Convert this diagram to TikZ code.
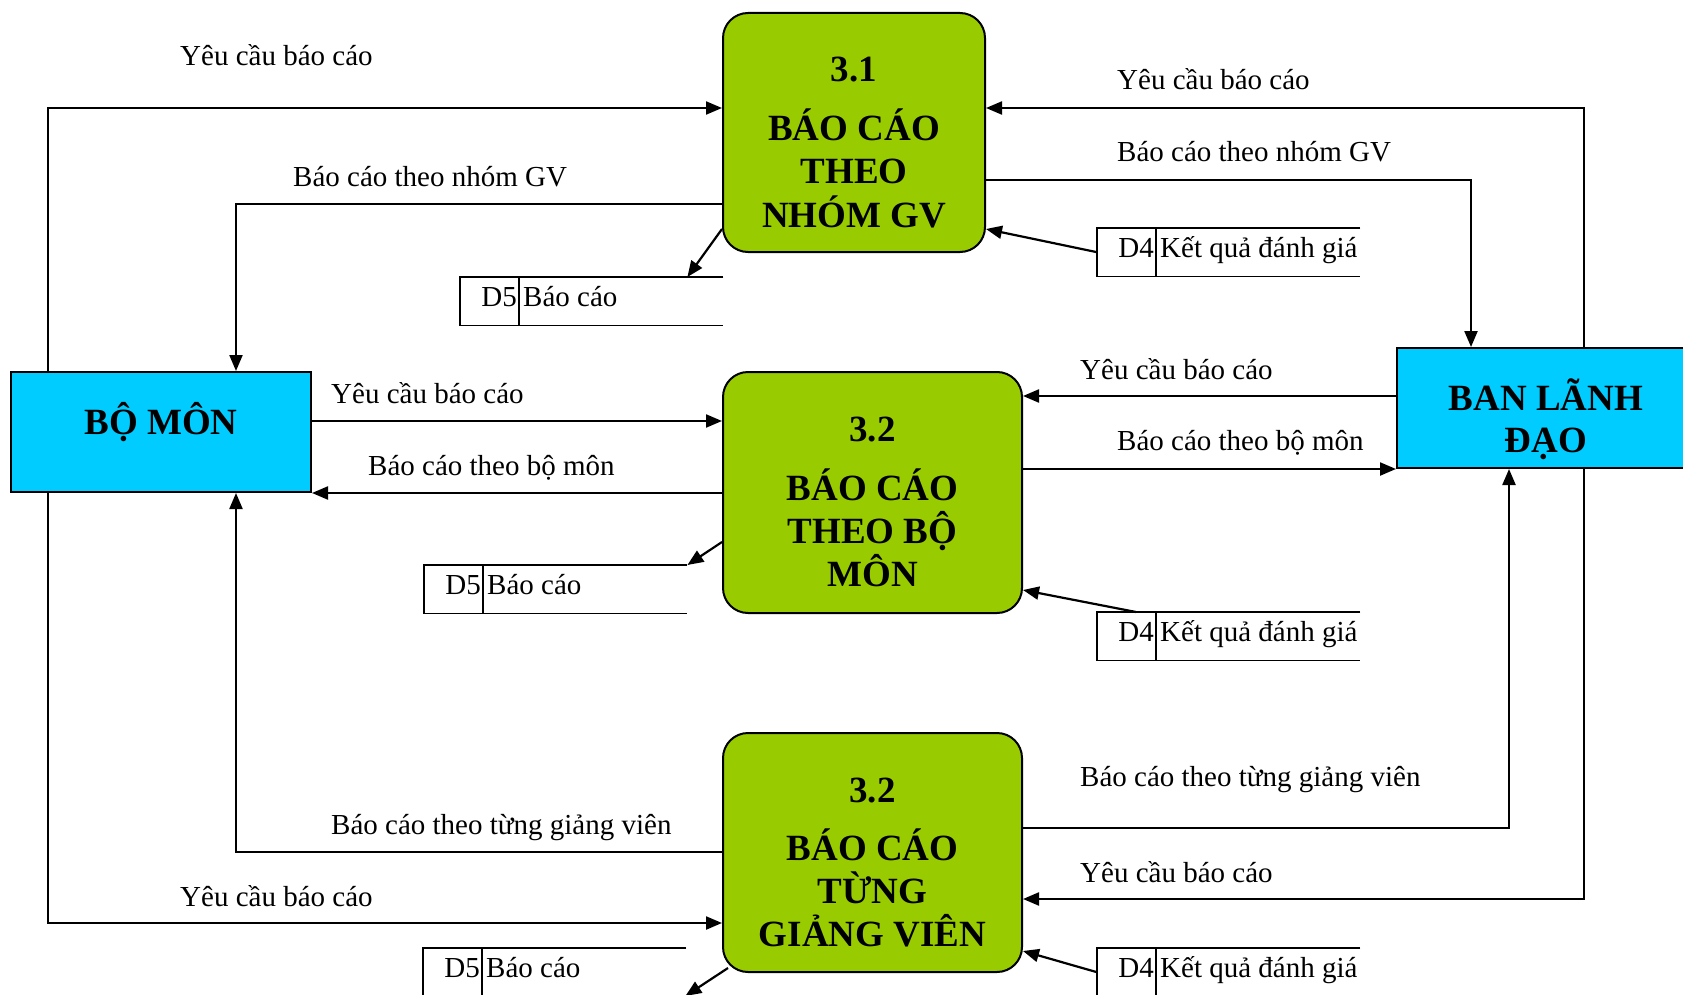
\documentclass[tikz,border=0pt]{standalone}
\usepackage{fontspec}
\setmainfont{Liberation Serif}
\usetikzlibrary{arrows.meta,calc}
\definecolor{procgreen}{HTML}{99CC00}
\definecolor{extcyan}{HTML}{00CCFF}
\tikzset{
  proc/.style={draw=black, line width=2pt, fill=procgreen, rounded corners=25pt, inner sep=0pt},
  ext/.style={draw=black, line width=2pt, fill=extcyan, inner sep=0pt},
  boxtxt/.style={font=\fontsize{37}{43}\selectfont\bfseries, inner sep=0pt, anchor=base},
  lbl/.style={font=\fontsize{29}{35}\selectfont, inner sep=0pt, anchor=base west},
  flow/.style={line width=2.2pt, -{Triangle[length=16pt,width=13pt]}},
  storebox/.style={minimum width=263pt, minimum height=48pt, inner sep=0pt, draw=none},
  storeline/.style={line width=1.6pt},
  storetext/.style={font=\fontsize{29}{35}\selectfont, inner sep=0pt},
}
\newcommand\flowstore[5]{%
  \node[storebox, anchor=north west] (#1) at (#2,#3) {};
  \draw[storeline] (#1.north east) -- (#1.north west) -- (#1.south west) -- (#1.south east);
  \draw[storeline] ($(#1.north west)+(59,0)$) -- ($(#1.south west)+(59,0)$);
  \node[storetext, anchor=base east] (#1-id) at ($(#1.north west)+(57,29)$) {#4};
  \node[storetext, anchor=base west] (#1-lb) at ($(#1.north west)+(63,29)$) {#5};
}
\begin{document}
\begin{tikzpicture}[x=1pt,y=-1pt]
\useasboundingbox (0,0) rectangle (1683,995);
% processes
\node[proc, minimum width=262pt, minimum height=239pt] (p31) at (854,132.5) {};
\node[proc, minimum width=299pt, minimum height=241pt] (p32) at (872.5,492.5) {};
\node[proc, minimum width=299pt, minimum height=239pt] (p32b) at (872.5,852.5) {};
% externals
\node[ext, minimum width=300pt, minimum height=120pt] (bm) at (161,432) {};
\node[ext, minimum width=298pt, minimum height=120pt] (ban) at (1546,408) {};
% texts in boxes
\node[boxtxt] (p31n) at (854,82) {3.1};
\node[boxtxt] (p31a) at (854,141) {BÁO CÁO};
\node[boxtxt] (p31b) at (854,184) {THEO};
\node[boxtxt] (p31c) at (854,227) {NHÓM GV};
\node[boxtxt] (p32n) at (872.5,441) {3.2};
\node[boxtxt] (p32x) at (872.5,500) {BÁO CÁO};
\node[boxtxt] (p32y) at (872.5,543) {THEO BỘ};
\node[boxtxt] (p32z) at (872.5,586) {MÔN};
\node[boxtxt] (p3bn) at (872.5,802) {3.2};
\node[boxtxt] (p3bx) at (872.5,860) {BÁO CÁO};
\node[boxtxt] (p3by) at (872.5,903) {TỪNG};
\node[boxtxt] (p3bz) at (872.5,946) {GIẢNG VIÊN};
\node[boxtxt] (bmt) at (161,434) {BỘ MÔN};
\node[boxtxt] (bana) at (1546,410) {BAN LÃNH};
\node[boxtxt] (banb) at (1546,452) {ĐẠO};
% stores
\flowstore{d5a}{460}{277}{D5}{Báo cáo}
\flowstore{d4a}{1097}{228}{D4}{Kết quả đánh giá}
\flowstore{d5b}{424}{565}{D5}{Báo cáo}
\flowstore{d4b}{1097}{612}{D4}{Kết quả đánh giá}
\flowstore{d5c}{423}{948}{D5}{Báo cáo}
\flowstore{d4c}{1097}{948}{D4}{Kết quả đánh giá}
% guide coordinates
\coordinate (xL) at (48,0);
\coordinate (xM) at (236,0);
\coordinate (xR) at (1584,0);
\coordinate (xR2) at (1471,0);
\coordinate (xR3) at (1509,0);
\coordinate (y1) at (0,108);
\coordinate (y2) at (0,204);
\coordinate (y3) at (0,180);
\coordinate (y4) at (0,421);
\coordinate (y5) at (0,396);
\coordinate (y6) at (0,852);
\coordinate (y7) at (0,923);
\coordinate (y8) at (0,828);
\coordinate (y9) at (0,899);
\coordinate (d5cend) at ($(d5c.north east)+(-1,48)$);
% connectors, top
\draw[flow] (bm.north -| xL) |- (p31.west |- y1);
\draw[flow] (p31.west |- y2) -| (bm.north -| xM);
\draw[flow] (ban.north -| xR) |- (p31.east |- y1);
\draw[flow] (p31.east |- y3) -| (ban.north -| xR2);
\draw[flow] (d4a.west) -- ($(p31.south east)+(0,-24)$);
\draw[flow] ($(p31.south west)+(0,-24)$) -- ($(d5a.north east)+(-36,0)$);
% connectors, middle
\draw[flow] (bm.east |- y4) -- (p32.west |- y4);
\draw[flow] (p32.west |- bm.south) -- (bm.south east);
\draw[flow] (ban.west |- y5) -- (p32.east |- y5);
\draw[flow] (p32.east |- ban.south) -- (ban.south west);
\draw[flow] ($(p32.south west)+(0,-72)$) -- (d5b.north east);
\draw[flow] ($(d4b.north west)+(39,0)$) -- ($(p32.south east)+(0,-24)$);
% connectors, bottom
\draw[flow] (p32b.west |- y6) -| (bm.south -| xM);
\draw[flow] (bm.south -| xL) |- (p32b.west |- y7);
\draw[flow] (p32b.east |- y8) -| (ban.south -| xR3);
\draw[flow] (ban.south -| xR) |- (p32b.east |- y9);
\draw[flow] (d4c.west) -- ($(p32b.south east)+(0,-22)$);
\draw[flow] ($(p32b.south west)+(6,-5)$) -- (d5cend);
% labels
\node[lbl] (l1) at (180,66) {Yêu cầu báo cáo};
\node[lbl] (l2) at (293,186) {Báo cáo theo nhóm GV};
\node[lbl] (l3) at (1117,90) {Yêu cầu báo cáo};
\node[lbl] (l4) at (1117,162) {Báo cáo theo nhóm GV};
\node[lbl] (l5) at (331,403) {Yêu cầu báo cáo};
\node[lbl] (l6) at (368,475) {Báo cáo theo bộ môn};
\node[lbl] (l7) at (1080,379) {Yêu cầu báo cáo};
\node[lbl] (l8) at (1117,450) {Báo cáo theo bộ môn};
\node[lbl] (l9) at (331,834) {Báo cáo theo từng giảng viên};
\node[lbl] (l10) at (180,906) {Yêu cầu báo cáo};
\node[lbl] (l11) at (1080,786) {Báo cáo theo từng giảng viên};
\node[lbl] (l12) at (1080,882) {Yêu cầu báo cáo};
\end{tikzpicture}
\end{document}
